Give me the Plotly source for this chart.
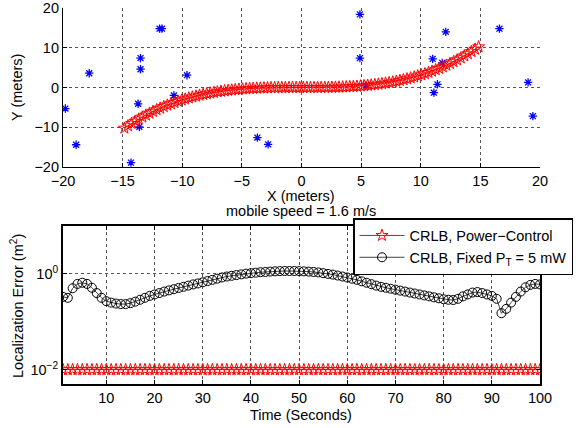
import plotly.graph_objects as go

# ---------------- data ----------------
# anchor (sensor) positions, meters
anchor_x = [-19.8, -18.9, -17.8, -14.3, -13.5, -13.5, -13.7, -13.6, -11.9, -11.7,
            -10.7, -9.6, -3.7, -2.8, 4.9, 4.9, 5.4, 11.0, 11.8, 11.4, 11.1, 12.1,
            16.6, 19.0, 19.4]
anchor_y = [-5.3, -14.4, 3.6, -18.9, 7.4, 4.6, -4.1, -9.9, 14.8, 14.8,
            -2.0, 3.1, -12.6, -14.3, 18.4, 7.4, 0.5, 7.2, 6.2, 0.8, -1.3, 14.0,
            14.8, 1.3, -7.2]

# mobile trajectory, meters
traj_x = [-14.85, -14.55, -14.25, -13.95, -13.65, -13.35, -13.05, -12.75, -12.45, -12.15,
          -11.85, -11.55, -11.25, -10.95, -10.65, -10.35, -10.05, -9.75, -9.45, -9.15,
          -8.85, -8.55, -8.25, -7.95, -7.65, -7.35, -7.05, -6.75, -6.45, -6.15,
          -5.85, -5.55, -5.25, -4.95, -4.65, -4.35, -4.05, -3.75, -3.45, -3.15,
          -2.85, -2.55, -2.25, -1.95, -1.65, -1.35, -1.05, -0.75, -0.45, -0.15,
          0.15, 0.45, 0.75, 1.05, 1.35, 1.65, 1.95, 2.25, 2.55, 2.85,
          3.15, 3.45, 3.75, 4.05, 4.35, 4.65, 4.95, 5.25, 5.55, 5.85,
          6.15, 6.45, 6.75, 7.05, 7.35, 7.65, 7.95, 8.25, 8.55, 8.85,
          9.15, 9.45, 9.75, 10.05, 10.35, 10.65, 10.95, 11.25, 11.55, 11.85,
          12.15, 12.45, 12.75, 13.05, 13.35, 13.65, 13.95, 14.25, 14.55, 14.85]
traj_y = [-10.23, -9.63, -9.04, -8.48, -7.95, -7.43, -6.94, -6.48, -6.03, -5.60,
          -5.20, -4.81, -4.45, -4.10, -3.77, -3.46, -3.17, -2.90, -2.64, -2.39,
          -2.17, -1.95, -1.75, -1.57, -1.40, -1.24, -1.10, -0.96, -0.84, -0.73,
          -0.63, -0.53, -0.45, -0.38, -0.31, -0.26, -0.21, -0.16, -0.13, -0.10,
          -0.07, -0.05, -0.04, -0.02, -0.01, -0.01, 0.00, 0.00, 0.00, 0.00,
          0.00, 0.00, 0.00, 0.00, 0.01, 0.01, 0.02, 0.04, 0.05, 0.07,
          0.10, 0.13, 0.16, 0.21, 0.26, 0.31, 0.38, 0.45, 0.53, 0.63,
          0.73, 0.84, 0.96, 1.10, 1.24, 1.40, 1.57, 1.75, 1.95, 2.17,
          2.39, 2.64, 2.90, 3.17, 3.46, 3.77, 4.10, 4.45, 4.81, 5.20,
          5.60, 6.03, 6.48, 6.94, 7.43, 7.95, 8.48, 9.04, 9.63, 10.23]

# time axis, seconds
time_s = list(range(1, 101))

# CRLB with power control (m^2)
crlb_power_control = [0.01] * 100

# CRLB with fixed PT = 5 mW (m^2)
crlb_fixed = [0.331, 0.316, 0.501, 0.617, 0.653, 0.617, 0.513, 0.398, 0.316, 0.269,
              0.251, 0.240, 0.234, 0.234, 0.245, 0.263, 0.288, 0.316, 0.347, 0.372,
              0.398, 0.427, 0.452, 0.479, 0.507, 0.537, 0.569, 0.603, 0.631, 0.668,
              0.708, 0.750, 0.794, 0.841, 0.881, 0.912, 0.944, 0.977, 1.012, 1.035,
              1.059, 1.084, 1.096, 1.117, 1.130, 1.143, 1.148, 1.148, 1.148, 1.143,
              1.130, 1.114, 1.096, 1.072, 1.035, 1.000, 0.966, 0.923, 0.881, 0.841,
              0.794, 0.750, 0.700, 0.653, 0.610, 0.569, 0.537, 0.513, 0.490, 0.468,
              0.447, 0.427, 0.407, 0.389, 0.372, 0.355, 0.339, 0.324, 0.309, 0.295,
              0.288, 0.285, 0.302, 0.339, 0.372, 0.407, 0.417, 0.398, 0.372, 0.347,
              0.302, 0.151, 0.186, 0.251, 0.331, 0.427, 0.525, 0.589, 0.617, 0.603]

top_xticks = [-20, -15, -10, -5, 0, 5, 10, 15, 20]
top_yticks = [-20, -10, 0, 10, 20]
bot_xticks = [10, 20, 30, 40, 50, 60, 70, 80, 90, 100]
bot_yticks = [0.01, 1]
bot_yticktext = ["10<sup>\u22122</sup>", "10<sup>0</sup>"]

FONT = "Liberation Sans, Arial, Helvetica, sans-serif"
FS = 14.5
FS_LEG = 14.5
W, H = 576, 428

fig = go.Figure()

# top plot
fig.add_trace(go.Scatter(
    x=anchor_x, y=anchor_y, mode="markers", showlegend=False,
    marker=dict(symbol="asterisk-open", size=7, color="#0000ff",
                line=dict(color="#0000ff", width=1.3)),
    xaxis="x", yaxis="y"))
fig.add_trace(go.Scatter(
    x=anchor_x, y=anchor_y, mode="markers", showlegend=False, hoverinfo="skip",
    marker=dict(symbol="circle", size=3, color="#0000ff"),
    xaxis="x", yaxis="y"))
fig.add_trace(go.Scatter(
    x=traj_x, y=traj_y, mode="lines+markers", showlegend=False,
    line=dict(color="#ff0000", width=1),
    marker=dict(symbol="star-open", size=9, color="#ff0000",
                line=dict(color="#ff0000", width=1)),
    xaxis="x", yaxis="y"))

# bottom plot
fig.add_trace(go.Scatter(
    x=time_s, y=crlb_power_control, mode="lines+markers",
    name="CRLB, Power\u2212Control",
    line=dict(color="#ff0000", width=1),
    marker=dict(symbol="star-open", size=9, color="#ff0000",
                line=dict(color="#ff0000", width=1)),
    xaxis="x2", yaxis="y2"))
fig.add_trace(go.Scatter(
    x=time_s, y=crlb_fixed, mode="lines+markers",
    name="CRLB, Fixed P<sub>T</sub> = 5 mW",
    line=dict(color="#444444", width=1),
    marker=dict(symbol="circle-open", size=9, color="#000000",
                line=dict(color="#000000", width=1)),
    xaxis="x2", yaxis="y2"))

x_dom = [63 / W, 540 / W]
common_ax = dict(
    showgrid=True, gridcolor="#555555", griddash="dot", gridwidth=1,
    zeroline=False, ticks="inside", ticklen=4, tickcolor="#000000",
    showline=True, linecolor="#000000", automargin=False,
    ticklabeloverflow="allow",
    tickfont=dict(family=FONT, size=FS, color="#000000"),
)

fig.update_layout(
    width=W, height=H,
    margin=dict(l=0, r=0, t=0, b=0, autoexpand=False),
    paper_bgcolor="#ffffff", plot_bgcolor="#ffffff",
    font=dict(family=FONT, size=FS, color="#000000"),
    xaxis=dict(domain=x_dom, range=[-20, 20], tickvals=top_xticks,
               anchor="y", linewidth=1.2, **common_ax),
    yaxis=dict(domain=[1 - 167 / H, 1 - 8 / H], range=[-20, 20], tickvals=top_yticks,
               anchor="x", linewidth=1.2, **common_ax),
    xaxis2=dict(domain=x_dom, range=[1, 100], tickvals=bot_xticks,
                anchor="y2", linewidth=2, mirror="ticks", **common_ax),
    yaxis2=dict(domain=[1 - 384 / H, 1 - 226 / H], type="log", range=[-2.3, 1],
                tickvals=bot_yticks, ticktext=bot_yticktext,
                anchor="x2", linewidth=2, mirror="ticks", **common_ax),
    legend=dict(x=353 / W, y=1 - 218 / H, xanchor="left", yanchor="top",
                bgcolor="#ffffff", bordercolor="#000000", borderwidth=1.5,
                font=dict(family=FONT, size=FS_LEG, color="#000000"),
                tracegroupgap=0, itemwidth=45),
    annotations=[
        dict(text="X (meters)", x=301 / W, y=1 - 196 / H, xref="paper", yref="paper",
             showarrow=False, font=dict(size=FS), xanchor="center", yanchor="middle"),
        dict(text="mobile speed = 1.6 m/s", x=301 / W, y=1 - 211 / H, xref="paper",
             yref="paper", showarrow=False, font=dict(size=FS),
             xanchor="center", yanchor="middle"),
        dict(text="Time (Seconds)", x=301 / W, y=1 - 415 / H, xref="paper", yref="paper",
             showarrow=False, font=dict(size=FS), xanchor="center", yanchor="middle"),
        dict(text="Y (meters)", x=17 / W, y=1 - 88 / H, xref="paper", yref="paper",
             showarrow=False, font=dict(size=FS), textangle=-90,
             xanchor="center", yanchor="middle"),
        dict(text="Localization Error (m<sup>2</sup>)", x=17 / W, y=1 - 306 / H,
             xref="paper", yref="paper", showarrow=False, font=dict(size=FS),
             textangle=-90, xanchor="center", yanchor="middle"),
    ],
)

fig.write_html(
    "out.html",
    config={"displayModeBar": False},
    post_script="document.body.style.margin='0';document.body.style.overflow='hidden';",
)
